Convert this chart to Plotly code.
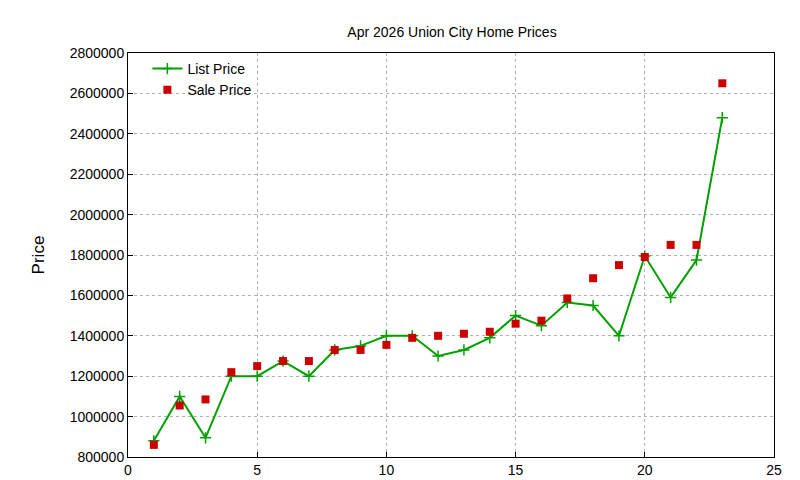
import plotly.graph_objects as go

x = list(range(1, 24))
list_price = [880000, 1100000, 895000, 1200000, 1200000, 1275000, 1200000, 1330000, 1350000, 1400000, 1400000, 1300000, 1330000, 1390000, 1500000, 1450000, 1565000, 1550000, 1400000, 1795000, 1590000, 1775000, 2480000]
sale_price = [860000, 1055000, 1085000, 1220000, 1250000, 1275000, 1275000, 1330000, 1330000, 1355000, 1390000, 1400000, 1410000, 1420000, 1460000, 1475000, 1585000, 1685000, 1750000, 1790000, 1850000, 1850000, 2650000]

fig = go.Figure()
fig.add_trace(go.Scatter(x=x, y=list_price, mode="lines+markers", name="List Price",
                         line=dict(color="#00a000", width=2),
                         marker=dict(symbol="cross-thin", size=8, line=dict(color="#00a000", width=1.5))))
fig.add_trace(go.Scatter(x=x, y=sale_price, mode="markers", name="Sale Price",
                         marker=dict(symbol="square", size=8, color="#cc0000")))

ax = dict(showline=True, mirror=True, linecolor="black", linewidth=1, ticks="inside",
          tickcolor="black", showgrid=True, gridcolor="#b0b0b0", griddash="dot", zeroline=False,
          tickfont=dict(size=14, color="black"), automargin=False)
fig.update_layout(
    width=800, height=480, plot_bgcolor="white", paper_bgcolor="white",
    font=dict(family="Liberation Sans, Arial", color="black", size=14),
    title=dict(text="Apr 2026 Union City Home Prices", x=0.555, y=0.96, xanchor="center",
               font=dict(size=14), automargin=False),
    margin=dict(l=120, r=34, t=45, b=31, autoexpand=False),
    xaxis=dict(range=[0, 25], dtick=5, **ax),
    yaxis=dict(range=[800000, 2800000], dtick=200000, tickformat="d",
               title=dict(text="Price", standoff=20), **ax),
    legend=dict(x=0.03, y=1.0, xanchor="left", yanchor="top", bgcolor="rgba(0,0,0,0)",
                font=dict(size=14)),
    showlegend=True,
)
fig.write_html("out.html")
